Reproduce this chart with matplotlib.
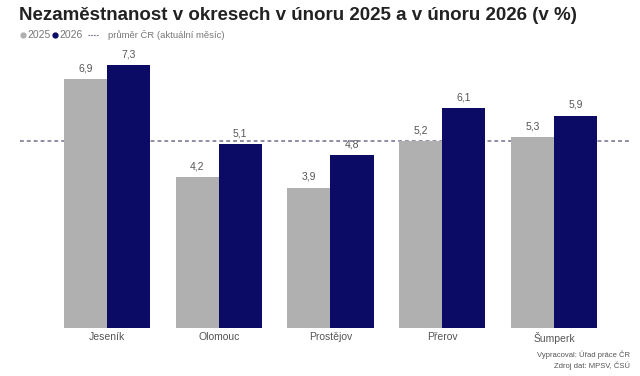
import matplotlib.pyplot as plt
from matplotlib.lines import Line2D
import numpy as np

# --- Data ---
districts = ["Jeseník", "Olomouc", "Prostějov", "Přerov", "Šumperk"]
values_2025 = [6.9, 4.2, 3.9, 5.2, 5.3]
values_2026 = [7.3, 5.1, 4.8, 6.1, 5.9]
cr_average = 5.2

color_2025 = "#b0b0b0"
color_2026 = "#0b0b66"
dash_color = "#70708a"

plt.rcParams['font.family'] = ['Liberation Sans', 'DejaVu Sans']

W, H = 640, 376
fig = plt.figure(figsize=(6.4, 3.76), dpi=100)
ax = fig.add_axes([20 / W, 48 / H, 610 / W, 273 / H])

x = np.arange(len(districts))
width = 0.385
bars1 = ax.bar(x - width / 2, values_2025, width, color=color_2025)
bars2 = ax.bar(x + width / 2, values_2026, width, color=color_2026)

ax.axhline(cr_average, color=dash_color, linestyle=(0, (2.5, 2)), linewidth=1.1, zorder=0.5)

for bars, vals in [(bars1, values_2025), (bars2, values_2026)]:
    for b, v in zip(bars, vals):
        ax.annotate(f"{v:.1f}".replace(".", ","), (b.get_x() + b.get_width() / 2, v),
                    textcoords="offset points", xytext=(0, 4), ha="center", va="bottom",
                    fontsize=7.5, color="#555555")

ax.set_xlim(-0.778, 4.68)
ax.set_ylim(0, 7.58)
ax.set_xticks(x)
ax.set_xticklabels(districts, fontsize=7.5, color="#555555")
ax.tick_params(axis="x", length=0, pad=3)
ax.set_yticks([])
for s in ax.spines.values():
    s.set_visible(False)

# --- Title ---
fig.text(19 / W, 1 - 16 / H, "Nezaměstnanost v okresech v únoru 2025 a v únoru 2026 (v %)",
         fontsize=13.5, fontweight="bold", color="#222222", va="center", ha="left")

# --- Legend (manual) ---
ly = 1 - 35 / H
fig.add_artist(Line2D([23 / W], [ly], marker="o", color=color_2025, markersize=3.5,
                      transform=fig.transFigure))
fig.text(27 / W, ly, "2025", fontsize=7.5, color="#777777", va="center", ha="left")
fig.add_artist(Line2D([55 / W], [ly], marker="o", color=color_2026, markersize=3.5,
                      transform=fig.transFigure))
fig.text(59 / W, ly, "2026", fontsize=7.5, color="#777777", va="center", ha="left")
fig.add_artist(Line2D([88 / W, 98 / W], [ly, ly], color=dash_color, linewidth=0.8,
                      linestyle=(0, (1.5, 1)), transform=fig.transFigure))
fig.text(108 / W, ly, "průměr ČR (aktuální měsíc)", fontsize=6.8, color="#777777",
         va="center", ha="left")

# --- Source ---
fig.text(630 / W, 1 - 355 / H, "Vypracoval: Úřad práce ČR", fontsize=5.5,
         color="#555555", ha="right", va="center")
fig.text(630 / W, 1 - 366 / H, "Zdroj dat: MPSV, ČSÚ", fontsize=5.5,
         color="#555555", ha="right", va="center")

fig.savefig("out.png", dpi=100)
